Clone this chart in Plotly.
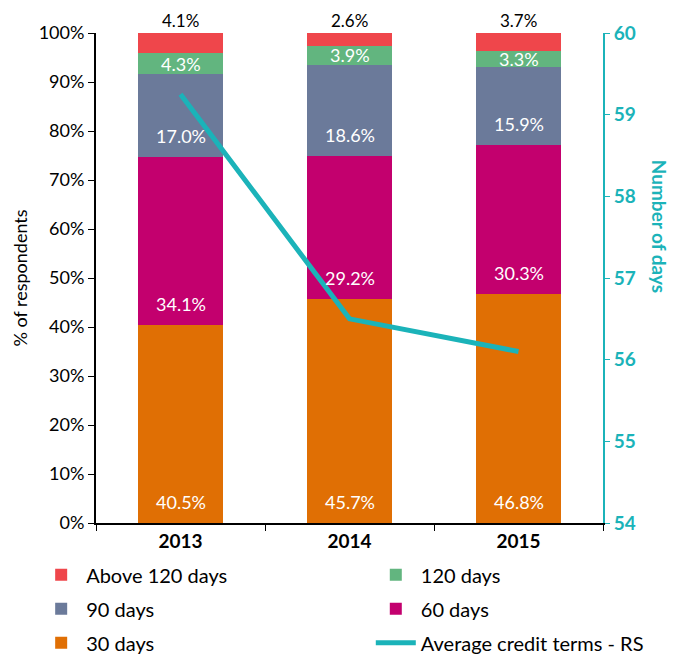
import plotly.graph_objects as go

years = ["2013", "2014", "2015"]
d30 = [40.5, 45.7, 46.8]
d60 = [34.1, 29.2, 30.3]
d90 = [17.0, 18.6, 15.9]
d120 = [4.3, 3.9, 3.3]
above120 = [4.1, 2.6, 3.7]
avg_days = [59.25, 56.5, 56.1]

# stack order bottom -> top
series = [
    ("30 days", d30, "#E06F04", "legend"),
    ("60 days", d60, "#C3006E", "legend2"),
    ("90 days", d90, "#6B7A9A", "legend"),
    ("120 days", d120, "#62B57F", "legend2"),
    ("Above 120 days", above120, "#EF464B", "legend"),
]
order = ["Above 120 days", "120 days", "90 days", "60 days", "30 days", "Average credit terms - RS"]

FONT = "Lato"
TEAL = "#1BB3B9"
fig = go.Figure()
base = [0.0] * len(years)
annotations = []
for name, vals, col, leg in series:
    fig.add_trace(go.Bar(
        x=years, y=vals, name=name, marker_color=col,
        marker_line_width=0, width=0.5,
        legend=leg, legendgroup=name, legendrank=order.index(name) + 1,
    ))
    for i, v in enumerate(vals):
        if name == "Above 120 days":
            annotations.append(dict(x=i, y=base[i] + v, yshift=13,
                                    text=f"{v:.1f}%", font=dict(color="black", size=17, family=FONT)))
        elif name == "120 days":
            annotations.append(dict(x=i, y=base[i] + v / 2, yshift=0,
                                    text=f"{v:.1f}%", font=dict(color="white", size=18, family=FONT)))
        else:
            annotations.append(dict(x=i, y=base[i], yshift=21,
                                    text=f"{v:.1f}%", font=dict(color="white", size=18, family=FONT)))
        base[i] += v

fig.add_trace(go.Scatter(
    x=years, y=avg_days, name="Average credit terms - RS", yaxis="y2",
    mode="lines", line=dict(color=TEAL, width=5),
    legend="legend2", legendgroup="avg", legendrank=6,
))

legend_common = dict(
    orientation="v", yanchor="top", xanchor="left",
    font=dict(size=20, family=FONT, color="black"),
    tracegroupgap=5, itemwidth=40, traceorder="grouped",
    bgcolor="rgba(0,0,0,0)",
)

fig.update_layout(
    width=684, height=659,
    barmode="stack",
    plot_bgcolor="white", paper_bgcolor="white",
    font=dict(family=FONT, size=16, color="black"),
    margin=dict(l=88, r=89, t=25, b=144, autoexpand=False),
    xaxis=dict(
        type="category",
        showline=True, linecolor="black", linewidth=2,
        ticks="outside", tickson="boundaries", ticklen=6, tickcolor="black",
        tickfont=dict(size=19, family=FONT, color="black", weight="bold"),
        range=[-0.5, 2.5],
    ),
    yaxis=dict(
        range=[0, 100], dtick=10, ticksuffix="%",
        showline=True, linecolor="black", linewidth=2, showgrid=False,
        ticks="outside", ticklen=6, tickcolor="black",
        tickfont=dict(size=18, family=FONT),
        title=dict(text="% of respondents", font=dict(size=18, family=FONT), standoff=6),
        zeroline=False,
    ),
    yaxis2=dict(
        overlaying="y", side="right", range=[54, 60], dtick=1,
        showline=True, linecolor=TEAL, linewidth=2, showgrid=False,
        ticks="outside", ticklen=5, tickcolor=TEAL,
        tickfont=dict(size=19, family=FONT, color=TEAL, weight="bold"),
        zeroline=False,
    ),
    legend=dict(x=-0.118, y=-0.066, **legend_common),
    legend2=dict(x=0.542, y=-0.066, **legend_common),
    showlegend=True,
)

for a in annotations:
    fig.add_annotation(xref="x", yref="y", showarrow=False,
                       xanchor="center", yanchor="middle", **a)

fig.add_annotation(
    text="<b>Number of days</b>", textangle=90,
    xref="paper", yref="paper", x=1.112, y=0.605, xanchor="center", yanchor="middle",
    showarrow=False, font=dict(size=19, color=TEAL, family=FONT),
)

fig.write_html("out.html")
